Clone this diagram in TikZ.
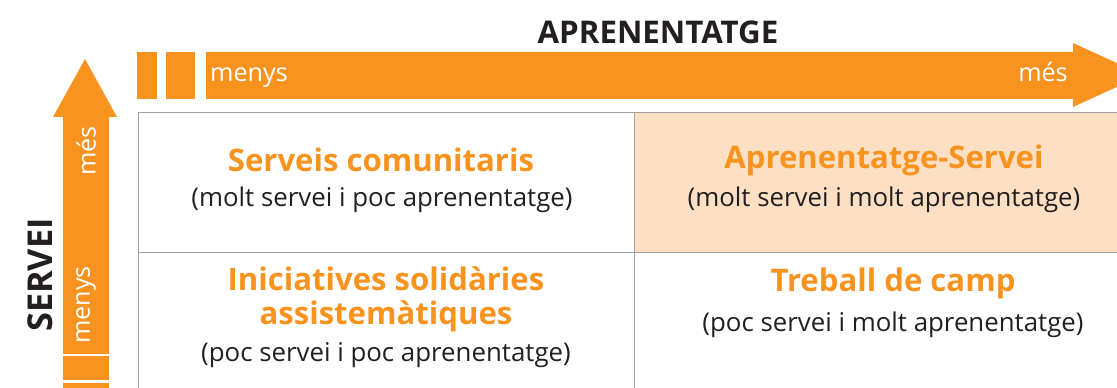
\documentclass[tikz,border=0pt]{standalone}
\usepackage{fontspec}
\setmainfont{Open Sans}
\usepackage{tikz}
\usetikzlibrary{positioning}
\definecolor{apgorange}{RGB}{247,147,30}
\definecolor{apgpeach}{RGB}{253,224,196}
\definecolor{apggray}{RGB}{160,160,160}
\definecolor{apgdark}{RGB}{35,31,32}

\begin{document}
\begin{tikzpicture}[x=0.02cm, y=-0.02cm,
    cell/.style={rectangle, draw=apggray, line width=0.8pt, minimum width=9.92cm, minimum height=2.8cm, anchor=north west},
    head/.style={text=apgorange, font=\fontsize{17.7}{19.5}\selectfont\bfseries, align=center},
    sub/.style={text=apgdark, font=\fontsize{14.7}{16}\selectfont, align=center},
    axis/.style={text=apgdark, font=\fontsize{17.8}{19}\selectfont\bfseries},
    tick/.style={text=white, font=\fontsize{14.3}{16}\selectfont}
]
\useasboundingbox (0,0) rectangle (1117,388);

% quadrants
\node[cell] (c1) at (138,112) {};
\node[cell, fill=apgpeach] (c2) at (634,112) {};
\node[cell] (c3) at (138,252) {};
\node[cell] (c4) at (634,252) {};

% horizontal arrow
\fill[apgorange] (137,52) rectangle (157,99);
\fill[apgorange] (166,52) rectangle (195,99);
\fill[apgorange] (206,52) -- (1073,52) -- (1073,43) -- (1143,75) -- (1073,107) -- (1073,99) -- (206,99) -- cycle;
\node[axis] (apr) at (658,32) {APRENENTATGE};
\node[tick, anchor=base] (hless) at (249,82) {menys};
\node[tick, anchor=base] (hmore) at (1043,82) {més};

% vertical arrow
\fill[apgorange] (63,388) rectangle (109,383);
\fill[apgorange] (63,380) rectangle (109,356);
\fill[apgorange] (63,354) -- (63,117) -- (53,117) -- (85,59) -- (117,117) -- (109,117) -- (109,354) -- cycle;
\node[axis, rotate=90, font=\fontsize{19.5}{21}\selectfont\bfseries] (serv) at (40,275) {SERVEI};
\node[tick, rotate=90] (vless) at (86,305) {menys};
\node[tick, rotate=90] (vmore) at (86,151) {més};

% labels
\node[head] (t1) at (381,160) {Serveis comunitaris};
\node[sub] (s1) at (382,200) {(molt servei i poc aprenentatge)};
\node[head] (t2) at (884,160) {Aprenentatge-Servei};
\node[sub] (s2) at (884,200) {(molt servei i molt aprenentatge)};
\node[head] (t3) at (386,299) {Iniciatives solidàries\\assistemàtiques};
\node[sub] (s3) at (386,355) {(poc servei i poc aprenentatge)};
\node[head] (t4) at (893,283) {Treball de camp};
\node[sub] (s4) at (893,325) {(poc servei i molt aprenentatge)};

\end{tikzpicture}
\end{document}
